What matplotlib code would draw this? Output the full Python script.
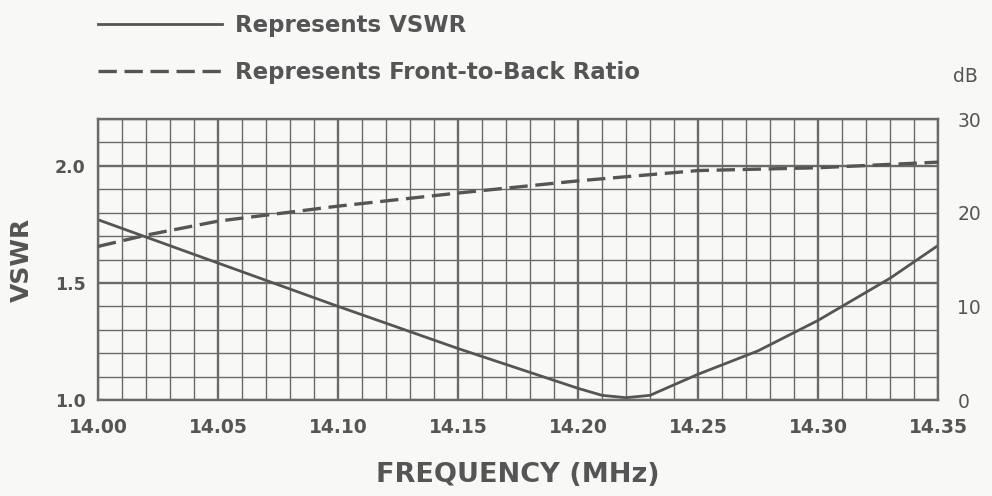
import matplotlib
matplotlib.use("Agg")
import matplotlib.pyplot as plt
import numpy as np

# values
freq_vswr = [14.00, 14.05, 14.10, 14.15, 14.20, 14.21, 14.22, 14.23, 14.25, 14.275, 14.30, 14.33, 14.35]
vswr = [1.77, 1.585, 1.40, 1.22, 1.05, 1.02, 1.01, 1.02, 1.11, 1.21, 1.34, 1.52, 1.66]

freq_fb = [14.00, 14.02, 14.05, 14.10, 14.15, 14.20, 14.25, 14.30, 14.35]
fb_db = [16.4, 17.6, 19.1, 20.7, 22.1, 23.4, 24.5, 24.8, 25.4]

xticks = [14.00, 14.05, 14.10, 14.15, 14.20, 14.25, 14.30, 14.35]
yticks = [1.0, 1.5, 2.0]
db_ticks = [0, 10, 20, 30]

ink = "#555555"
grid_c = "#6a6a6a"
bg = "#f8f8f6"

plt.rcParams['font.family'] = ['DejaVu Sans']

fig = plt.figure(figsize=(9.92, 4.96), dpi=100, facecolor=bg)
ax = fig.add_axes([0.0988, 0.1935, 0.8468, 0.5665])
ax.set_facecolor(bg)

ax.set_xlim(14.00, 14.35)
ax.set_ylim(1.0, 2.2)

# grid: 0.01 MHz x 0.1 VSWR, heavier every 0.05 / 0.5
ax.set_xticks(xticks)
ax.set_xticks(np.arange(14.00, 14.351, 0.01), minor=True)
ax.set_yticks(yticks)
ax.set_yticks(np.arange(1.0, 2.21, 0.1), minor=True)
ax.grid(which='major', color=grid_c, lw=1.7)
ax.grid(which='minor', color=grid_c, lw=1.0)
ax.set_axisbelow(True)
ax.tick_params(which='both', length=0)
ax.tick_params(axis='x', pad=13, labelsize=13.5, labelcolor=ink)
ax.tick_params(axis='y', pad=9, labelsize=12.5, labelcolor=ink)
ax.set_xticklabels([f"{t:.2f}" for t in xticks], fontweight='bold')
ax.set_yticklabels([f"{t:.1f}" for t in yticks], fontweight='bold')
for s in ax.spines.values():
    s.set_color(grid_c)
    s.set_linewidth(1.7)

l1, = ax.plot(freq_vswr, vswr, color=ink, lw=2.0, label='Represents VSWR')

ax2 = ax.twinx()
ax2.set_ylim(0, 30)
ax2.set_yticks(db_ticks)
ax2.tick_params(length=0, pad=14, labelsize=13.5, labelcolor=ink)
for s in ax2.spines.values():
    s.set_visible(False)
l2, = ax2.plot(freq_fb, fb_db, color=ink, lw=2.4, dashes=(5.5, 2.3),
               label='Represents Front-to-Back Ratio')

ax.set_xlabel('FREQUENCY (MHz)', fontsize=19.5, fontweight='bold', color=ink, labelpad=18)
ax.set_ylabel('VSWR', fontsize=18, fontweight='bold', color=ink, labelpad=15)
fig.text(0.961, 0.845, 'dB', fontsize=13.5, color=ink, ha='left', va='center')

fig.legend(handles=[l1, l2], loc='upper left', bbox_to_anchor=(0.0988, 0.972),
           frameon=False, handlelength=5.4, handletextpad=0.57,
           labelspacing=1.05, borderpad=0, borderaxespad=0,
           prop={'weight': 'bold', 'size': 16.5}, labelcolor=ink)

fig.savefig('out.png', dpi=100, facecolor=bg)
